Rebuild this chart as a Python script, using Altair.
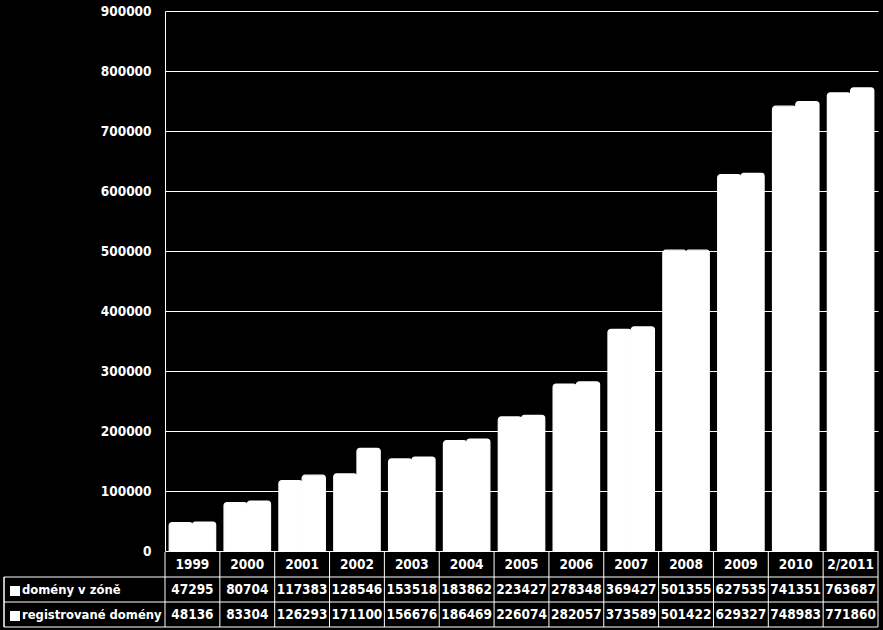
import altair as alt
import pandas as pd

years = ["1999", "2000", "2001", "2002", "2003", "2004", "2005", "2006",
         "2007", "2008", "2009", "2010", "2/2011"]
zone = [47295, 80704, 117383, 128546, 153518, 183862, 223427, 278348,
        369427, 501355, 627535, 741351, 763687]
registered = [48136, 83304, 126293, 171100, 156676, 186469, 226074, 282057,
              373589, 501422, 629327, 748983, 771860]
series_names = ["domény v zóně", "registrované domény"]
y_ticks = [0, 100000, 200000, 300000, 400000, 500000, 600000, 700000, 800000, 900000]

rows = []
for yr, a, b in zip(years, zone, registered):
    rows.append({"year": yr, "series": series_names[0], "value": a, "label": str(a)})
    rows.append({"year": yr, "series": series_names[1], "value": b, "label": str(b)})
df = pd.DataFrame(rows)
years_df = pd.DataFrame({"year": years})
legend_df = pd.DataFrame({"series": series_names})

FONT = "DejaVu Sans Condensed"
FS = 13.5
W, H = 713, 540

xscale = alt.Scale(paddingInner=0, paddingOuter=0)


def xenc(**kw):
    return alt.X("year:N", sort=years, axis=None, scale=xscale, **kw)


bars = alt.Chart(df).mark_bar(
    color="white", stroke="white", strokeWidth=1.2,
    cornerRadiusTopLeft=3, cornerRadiusTopRight=3
).encode(
    x=xenc(),
    xOffset=alt.XOffset("series:N", sort=series_names,
                        scale=alt.Scale(paddingInner=0, paddingOuter=0.18)),
    y=alt.Y("value:Q",
            scale=alt.Scale(domain=[0, 900000], nice=False, zero=True),
            axis=alt.Axis(values=y_ticks, format="d", title=None, ticks=False,
                          labelPadding=14, grid=True, gridColor="white",
                          gridOpacity=1, gridWidth=1, domainColor="white",
                          domainWidth=1, labelColor="white", labelFont=FONT,
                          labelFontSize=FS, labelFontWeight="bold")),
)

# table header (years)
header = alt.Chart(years_df).mark_text(
    color="white", font=FONT, fontSize=FS, fontWeight="bold", baseline="middle"
).encode(x=xenc(bandPosition=0.5), y=alt.value(553.5), text="year:N")

row1 = alt.Chart(df).transform_filter(
    alt.datum.series == series_names[0]
).mark_text(
    color="white", font=FONT, fontSize=FS, fontWeight="bold", baseline="middle"
).encode(x=xenc(bandPosition=0.5), y=alt.value(578.5), text="label:N")

row2 = alt.Chart(df).transform_filter(
    alt.datum.series == series_names[1]
).mark_text(
    color="white", font=FONT, fontSize=FS, fontWeight="bold", baseline="middle"
).encode(x=xenc(bandPosition=0.5), y=alt.value(603.5), text="label:N")

vlines = alt.Chart(years_df).mark_rule(color="white", strokeWidth=1).encode(
    x=xenc(bandPosition=0), y=alt.value(541), y2=alt.value(616)
)
vline_end = alt.Chart(years_df).transform_filter(
    alt.datum.year == years[-1]
).mark_rule(color="white", strokeWidth=1).encode(
    x=xenc(bandPosition=1), y=alt.value(541), y2=alt.value(616)
)

hlines = alt.Chart(pd.DataFrame({"k": [566, 591, 616]})).mark_rule(
    color="white", strokeWidth=1
).encode(x=alt.value(-161), x2=alt.value(W), y=alt.Y("k:Q", scale=None))

left_border = alt.Chart(legend_df).mark_rule(color="white", strokeWidth=1).encode(
    x=alt.value(-161), y=alt.value(566), y2=alt.value(616)
)

LFS = 12.9
leg_text1 = alt.Chart(legend_df).transform_filter(
    alt.datum.series == series_names[0]
).mark_text(
    color="white", font=FONT, fontSize=LFS, fontWeight="bold", baseline="middle",
    align="left"
).encode(x=alt.value(-143), y=alt.value(578.5), text="series:N")

leg_text2 = alt.Chart(legend_df).transform_filter(
    alt.datum.series == series_names[1]
).mark_text(
    color="white", font=FONT, fontSize=LFS, fontWeight="bold", baseline="middle",
    align="left"
).encode(x=alt.value(-143), y=alt.value(603.5), text="series:N")

sq1 = alt.Chart(legend_df).transform_filter(
    alt.datum.series == series_names[0]
).mark_rect(color="white").encode(
    x=alt.value(-155), x2=alt.value(-145), y=alt.value(575), y2=alt.value(585)
)
sq2 = alt.Chart(legend_df).transform_filter(
    alt.datum.series == series_names[1]
).mark_rect(color="white").encode(
    x=alt.value(-155), x2=alt.value(-145), y=alt.value(600), y2=alt.value(610)
)

chart = alt.layer(
    bars, vlines, vline_end, hlines, left_border, header, row1, row2,
    leg_text1, leg_text2, sq1, sq2
).properties(
    width=W, height=H, background="black",
    autosize=alt.AutoSizeParams(type="none"),
    padding={"left": 165, "top": 11, "right": 5, "bottom": 79},
).configure_view(stroke=None)

chart.save("out.html", embed_options={"renderer": "svg", "actions": False})
